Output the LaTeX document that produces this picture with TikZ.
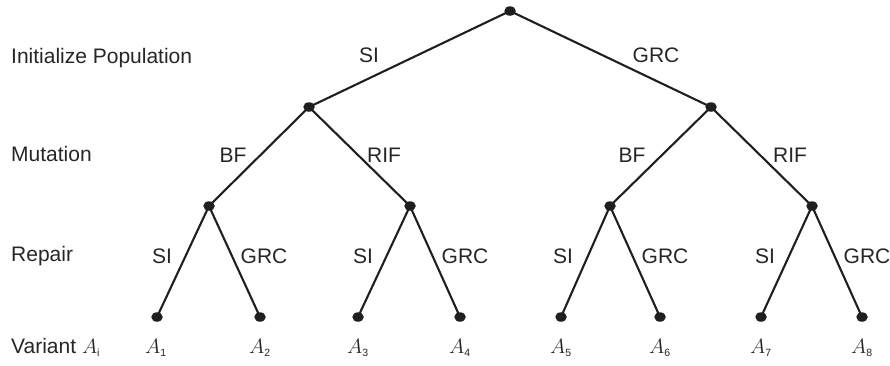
\documentclass[tikz,border=0pt]{standalone}
\usepackage{fontspec}
\setmainfont{Liberation Sans}
\usetikzlibrary{shapes.geometric}
\tikzset{
  dot/.style={ellipse, fill=black!88, inner sep=0pt, minimum width=11.5pt, minimum height=9.5pt},
  edge/.style={line width=2.1pt, draw=black!88},
  lbl/.style={font=\fontsize{21}{24}\selectfont, text=black!85, inner sep=0pt, anchor=base},
  rowlbl/.style={lbl, anchor=base west},
  var/.style={font=\fontsize{21}{24}\selectfont, text=black!85, inner sep=0pt, anchor=base}
}
\newcommand{\varA}[1]{$A_{\scriptscriptstyle\mathrm{#1}}$}
\begin{document}
\begin{tikzpicture}[x=1pt,y=-1pt]
\useasboundingbox (0,0) rectangle (890,365);
% nodes
\node[dot] (r) at (510,11) {};
\node[dot] (a) at (309,107) {};
\node[dot] (b) at (711,107) {};
\node[dot] (a1) at (209,206) {};
\node[dot] (a2) at (410,206) {};
\node[dot] (b1) at (610,206) {};
\node[dot] (b2) at (812,206) {};
\node[dot] (l1) at (157,317) {};
\node[dot] (l2) at (260,317) {};
\node[dot] (l3) at (358,317) {};
\node[dot] (l4) at (460,317) {};
\node[dot] (l5) at (561,317) {};
\node[dot] (l6) at (660,317) {};
\node[dot] (l7) at (761,317) {};
\node[dot] (l8) at (862,317) {};
% edges
\draw[edge] (r.center) -- (a.center);
\draw[edge] (r.center) -- (b.center);
\draw[edge] (a.center) -- (a1.center);
\draw[edge] (a.center) -- (a2.center);
\draw[edge] (b.center) -- (b1.center);
\draw[edge] (b.center) -- (b2.center);
\draw[edge] (a1.center) -- (l1.center);
\draw[edge] (a1.center) -- (l2.center);
\draw[edge] (a2.center) -- (l3.center);
\draw[edge] (a2.center) -- (l4.center);
\draw[edge] (b1.center) -- (l5.center);
\draw[edge] (b1.center) -- (l6.center);
\draw[edge] (b2.center) -- (l7.center);
\draw[edge] (b2.center) -- (l8.center);
% row labels
\node[rowlbl] (t1) at (11,63) {Initialize Population};
\node[rowlbl] (t2) at (11,161) {Mutation};
\node[rowlbl] (t3) at (11,261) {Repair};
\node[rowlbl] (t4) at (11,353) {Variant \varA{i}};
% edge labels
\node[lbl] (e1) at (369,62) {SI};
\node[lbl] (e2) at (656,62) {GRC};
\node[lbl] (e3) at (233,162) {BF};
\node[lbl] (e4) at (384,162) {RIF};
\node[lbl] (e5) at (632,162) {BF};
\node[lbl] (e6) at (790,162) {RIF};
\node[lbl] (f1) at (162,263) {SI};
\node[lbl] (f2) at (264,263) {GRC};
\node[lbl] (f3) at (363,263) {SI};
\node[lbl] (f4) at (465,263) {GRC};
\node[lbl] (f5) at (563,263) {SI};
\node[lbl] (f6) at (665,263) {GRC};
\node[lbl] (f7) at (765,263) {SI};
\node[lbl] (f8) at (867,263) {GRC};
% variants
\node[var] (v1) at (156,353) {\varA{1}};
\node[var] (v2) at (260,353) {\varA{2}};
\node[var] (v3) at (358,353) {\varA{3}};
\node[var] (v4) at (460,353) {\varA{4}};
\node[var] (v5) at (561,353) {\varA{5}};
\node[var] (v6) at (660,353) {\varA{6}};
\node[var] (v7) at (761,353) {\varA{7}};
\node[var] (v8) at (862,353) {\varA{8}};
\end{tikzpicture}
\end{document}
